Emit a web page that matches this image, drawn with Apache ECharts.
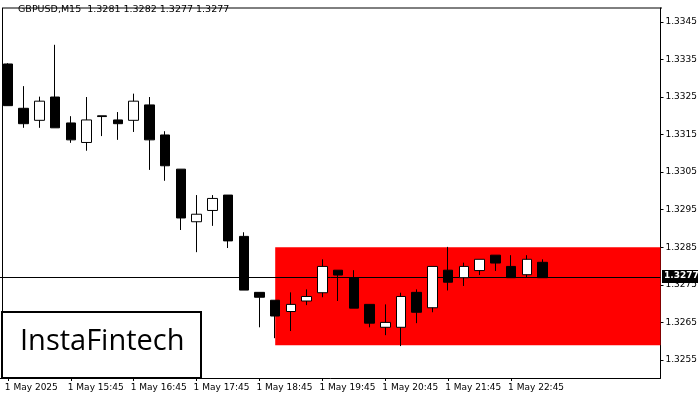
<!DOCTYPE html>
<html>
<head>
<meta charset="utf-8">
<script src="https://cdn.jsdelivr.net/npm/echarts@6/dist/echarts.min.js"></script>
<style>
  html, body { margin: 0; padding: 0; background: #fff; }
  #chart { width: 700px; height: 400px; }
</style>
</head>
<body>
<div id="chart"></div>
<script>
// candles: [open, close, low, high]
const candles = [
  [1.33338, 1.33227, 1.33227, 1.33340],
  [1.33220, 1.33179, 1.33168, 1.33279],
  [1.33188, 1.33239, 1.33168, 1.33251],
  [1.33250, 1.33168, 1.33168, 1.33389],
  [1.33181, 1.33136, 1.33128, 1.33199],
  [1.33129, 1.33189, 1.33107, 1.33250],
  [1.33200, 1.33198, 1.33146, 1.33200],
  [1.33189, 1.33179, 1.33136, 1.33210],
  [1.33188, 1.33239, 1.33157, 1.33259],
  [1.33229, 1.33136, 1.33056, 1.33250],
  [1.33149, 1.33067, 1.33027, 1.33159],
  [1.33058, 1.32928, 1.32896, 1.33058],
  [1.32918, 1.32938, 1.32837, 1.32989],
  [1.32948, 1.32980, 1.32907, 1.32989],
  [1.32989, 1.32867, 1.32848, 1.32989],
  [1.32879, 1.32736, 1.32736, 1.32890],
  [1.32730, 1.32717, 1.32637, 1.32730],
  [1.32709, 1.32667, 1.32608, 1.32709],
  [1.32679, 1.32698, 1.32627, 1.32730],
  [1.32707, 1.32719, 1.32696, 1.32738],
  [1.32729, 1.32799, 1.32717, 1.32818],
  [1.32789, 1.32776, 1.32707, 1.32789],
  [1.32769, 1.32688, 1.32688, 1.32789],
  [1.32698, 1.32648, 1.32637, 1.32698],
  [1.32637, 1.32650, 1.32616, 1.32698],
  [1.32637, 1.32719, 1.32587, 1.32729],
  [1.32730, 1.32677, 1.32648, 1.32738],
  [1.32689, 1.32799, 1.32677, 1.32799],
  [1.32789, 1.32757, 1.32735, 1.32851],
  [1.32769, 1.32799, 1.32747, 1.32809],
  [1.32788, 1.32818, 1.32776, 1.32818],
  [1.32829, 1.32808, 1.32787, 1.32829],
  [1.32799, 1.32769, 1.32769, 1.32829],
  [1.32777, 1.32818, 1.32769, 1.32829],
  [1.32810, 1.32769, 1.32769, 1.32818]
];
const priceTicks = [1.3255, 1.3265, 1.3275, 1.3285, 1.3295, 1.3305, 1.3315, 1.3325, 1.3335, 1.3345];
const slotCount = 42;
const zoneTop = 1.3285;
const zoneBottom = 1.32589;
const zoneStart = 17;
const lastPrice = 1.3277;
const title = 'GBPUSD,M15  1.3281 1.3282 1.3277 1.3277';

const times = [];
for (let i = 0; i < slotCount; i++) {
  const m = 14 * 60 + 45 + i * 15;
  const hh = Math.floor(m / 60) % 24, mm = m % 60;
  times.push(i === 0 ? '1 May 2025' : `1 May ${hh}:${String(mm).padStart(2, '0')}`);
}

const chart = echarts.init(document.getElementById('chart'));
const font = 'DejaVu Sans';
const shown = (i) => i % 4 === 0 && i < 36;

chart.setOption({
  animation: false,
  textStyle: { fontFamily: font },
  grid: { left: -2, right: 38, top: 8, bottom: 22 },
  xAxis: [{
    type: 'category',
    data: times,
    boundaryGap: true,
    axisLine: { onZero: false, lineStyle: { color: '#000' } },
    axisTick: { show: true, interval: shown, alignWithLabel: true, length: 3, lineStyle: { color: '#000' } },
    axisLabel: { interval: shown, align: 'left', color: '#000', fontSize: 9, margin: 5, padding: [0, 0, 0, -3] },
    splitLine: { show: false }
  }, {
    type: 'value', min: -0.5, max: slotCount - 0.5, show: false
  }],
  yAxis: {
    type: 'value',
    position: 'right',
    min: 1.32502,
    max: 1.33487,
    scale: true,
    axisLine: { show: true, onZero: false, lineStyle: { color: '#000' } },
    axisTick: { show: true, customValues: priceTicks, length: 3, lineStyle: { color: '#000' } },
    axisLabel: { customValues: priceTicks, formatter: (v) => v.toFixed(4), color: '#000', fontSize: 9, margin: 5 },
    splitLine: { show: false }
  },
  graphic: [
    { type: 'text', left: 18, top: 5, style: { text: title, font: `9.5px ${font}`, fill: '#000' } },
    { type: 'line', shape: { x1: 2, y1: 8, x2: 662, y2: 8 }, style: { stroke: '#000', lineWidth: 1 } },
    { type: 'line', shape: { x1: 2.5, y1: 8, x2: 2.5, y2: 378 }, style: { stroke: '#000', lineWidth: 1 } },
    { type: 'rect', shape: { x: 2, y: 312, width: 199, height: 66 }, style: { fill: '#fff', stroke: '#000', lineWidth: 2 }, z: 100 },
    { type: 'text', left: 20, top: 327, z: 101, style: { text: 'InstaFintech', font: `500 29px "Open Sans"`, fill: '#000' } },
    { type: 'rect', shape: { x: 662, y: 270, width: 36, height: 13 }, style: { fill: '#000' }, z: 100 },
    { type: 'text', left: 664, top: 271, z: 101, style: { text: lastPrice.toFixed(4), font: `bold 9px ${font}`, fill: '#fff' } }
  ],
  series: [{
    type: 'line',
    xAxisIndex: 1,
    data: [[0, null]],
    symbol: 'none',
    silent: true,
    z: 1,
    markArea: {
      silent: true,
      itemStyle: { color: '#ff0000', opacity: 1 },
      data: [[{ xAxis: zoneStart, yAxis: zoneTop }, { xAxis: slotCount - 0.5, yAxis: zoneBottom }]]
    },
    markLine: {
      silent: true,
      symbol: 'none',
      label: { show: false },
      lineStyle: { color: '#000', width: 1, type: 'solid' },
      data: [[{ xAxis: -0.5, yAxis: lastPrice }, { xAxis: slotCount - 0.5, yAxis: lastPrice }]]
    }
  }, {
    type: 'candlestick',
    data: candles,
    barWidth: 10,
    z: 5,
    itemStyle: { color: '#fff', color0: '#000', borderColor: '#000', borderColor0: '#000', borderWidth: 1 }
  }]
});
</script>
</body>
</html>
